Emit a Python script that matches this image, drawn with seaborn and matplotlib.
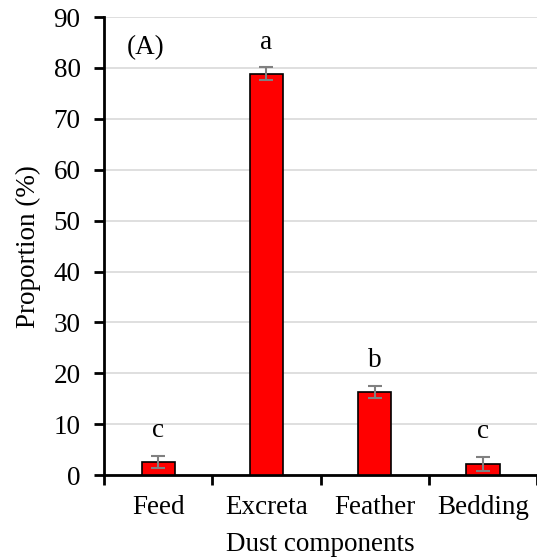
import matplotlib
matplotlib.use("Agg")
import matplotlib.pyplot as plt
import seaborn as sns
import pandas as pd
from matplotlib.ticker import FixedLocator

categories = ["Feed", "Excreta", "Feather", "Bedding"]
values = [2.6, 78.9, 16.3, 2.2]
errors = [1.2, 1.2, 1.2, 1.3]
letters = ["c", "a", "b", "c"]

sns.set_theme(style="white")
plt.rcParams['font.family'] = ['Liberation Serif', 'DejaVu Serif']
plt.rcParams['text.color'] = 'black'
plt.rcParams['axes.labelcolor'] = 'black'
plt.rcParams['xtick.color'] = 'black'
plt.rcParams['ytick.color'] = 'black'

FS = 19.5

df = pd.DataFrame({"cat": categories, "val": values})

fig = plt.figure(figsize=(5.37, 5.57), dpi=100)
ax = fig.add_axes([0.194, 0.147, 0.806, 0.8223])

sns.barplot(data=df, x="cat", y="val", color="#ff0000", width=0.31,
            edgecolor="black", linewidth=1.2, saturation=1, errorbar=None, ax=ax, zorder=3)
ax.errorbar(range(len(categories)), values, yerr=errors, fmt="none",
            ecolor="#808080", elinewidth=1.5, capsize=5, capthick=1.5, zorder=4)

for i, (v, e, l) in enumerate(zip(values, errors, letters)):
    ax.text(i, v + e + 5.0, l, ha="center", va="center", fontsize=FS)

ax.text(-0.29, 84, "(A)", ha="left", va="center", fontsize=FS)

ax.set_xlim(-0.5, 3.5)
ax.set_ylim(0, 90)
ax.set_yticks(range(0, 91, 10))
ax.yaxis.grid(True, color="#d9d9d9", linewidth=1.2, zorder=0)
ax.set_axisbelow(True)

ax.xaxis.set_minor_locator(FixedLocator([-0.5, 0.5, 1.5, 2.5, 3.5]))
ax.tick_params(axis="x", which="major", length=0, labelsize=FS, pad=14)
ax.tick_params(axis="x", which="minor", length=7, width=2, color="black", direction="out", bottom=True)
ax.tick_params(axis="y", length=7, width=2, color="black", direction="out", left=True, labelsize=FS, pad=10)

for s in ["top", "right"]:
    ax.spines[s].set_visible(False)
for s in ["left", "bottom"]:
    ax.spines[s].set_color("black")
    ax.spines[s].set_linewidth(2)

ax.set_xlabel("Dust components", fontsize=FS, labelpad=9)
ax.set_ylabel("Proportion (%)", fontsize=FS, labelpad=9)

fig.savefig("out.png", dpi=100)
